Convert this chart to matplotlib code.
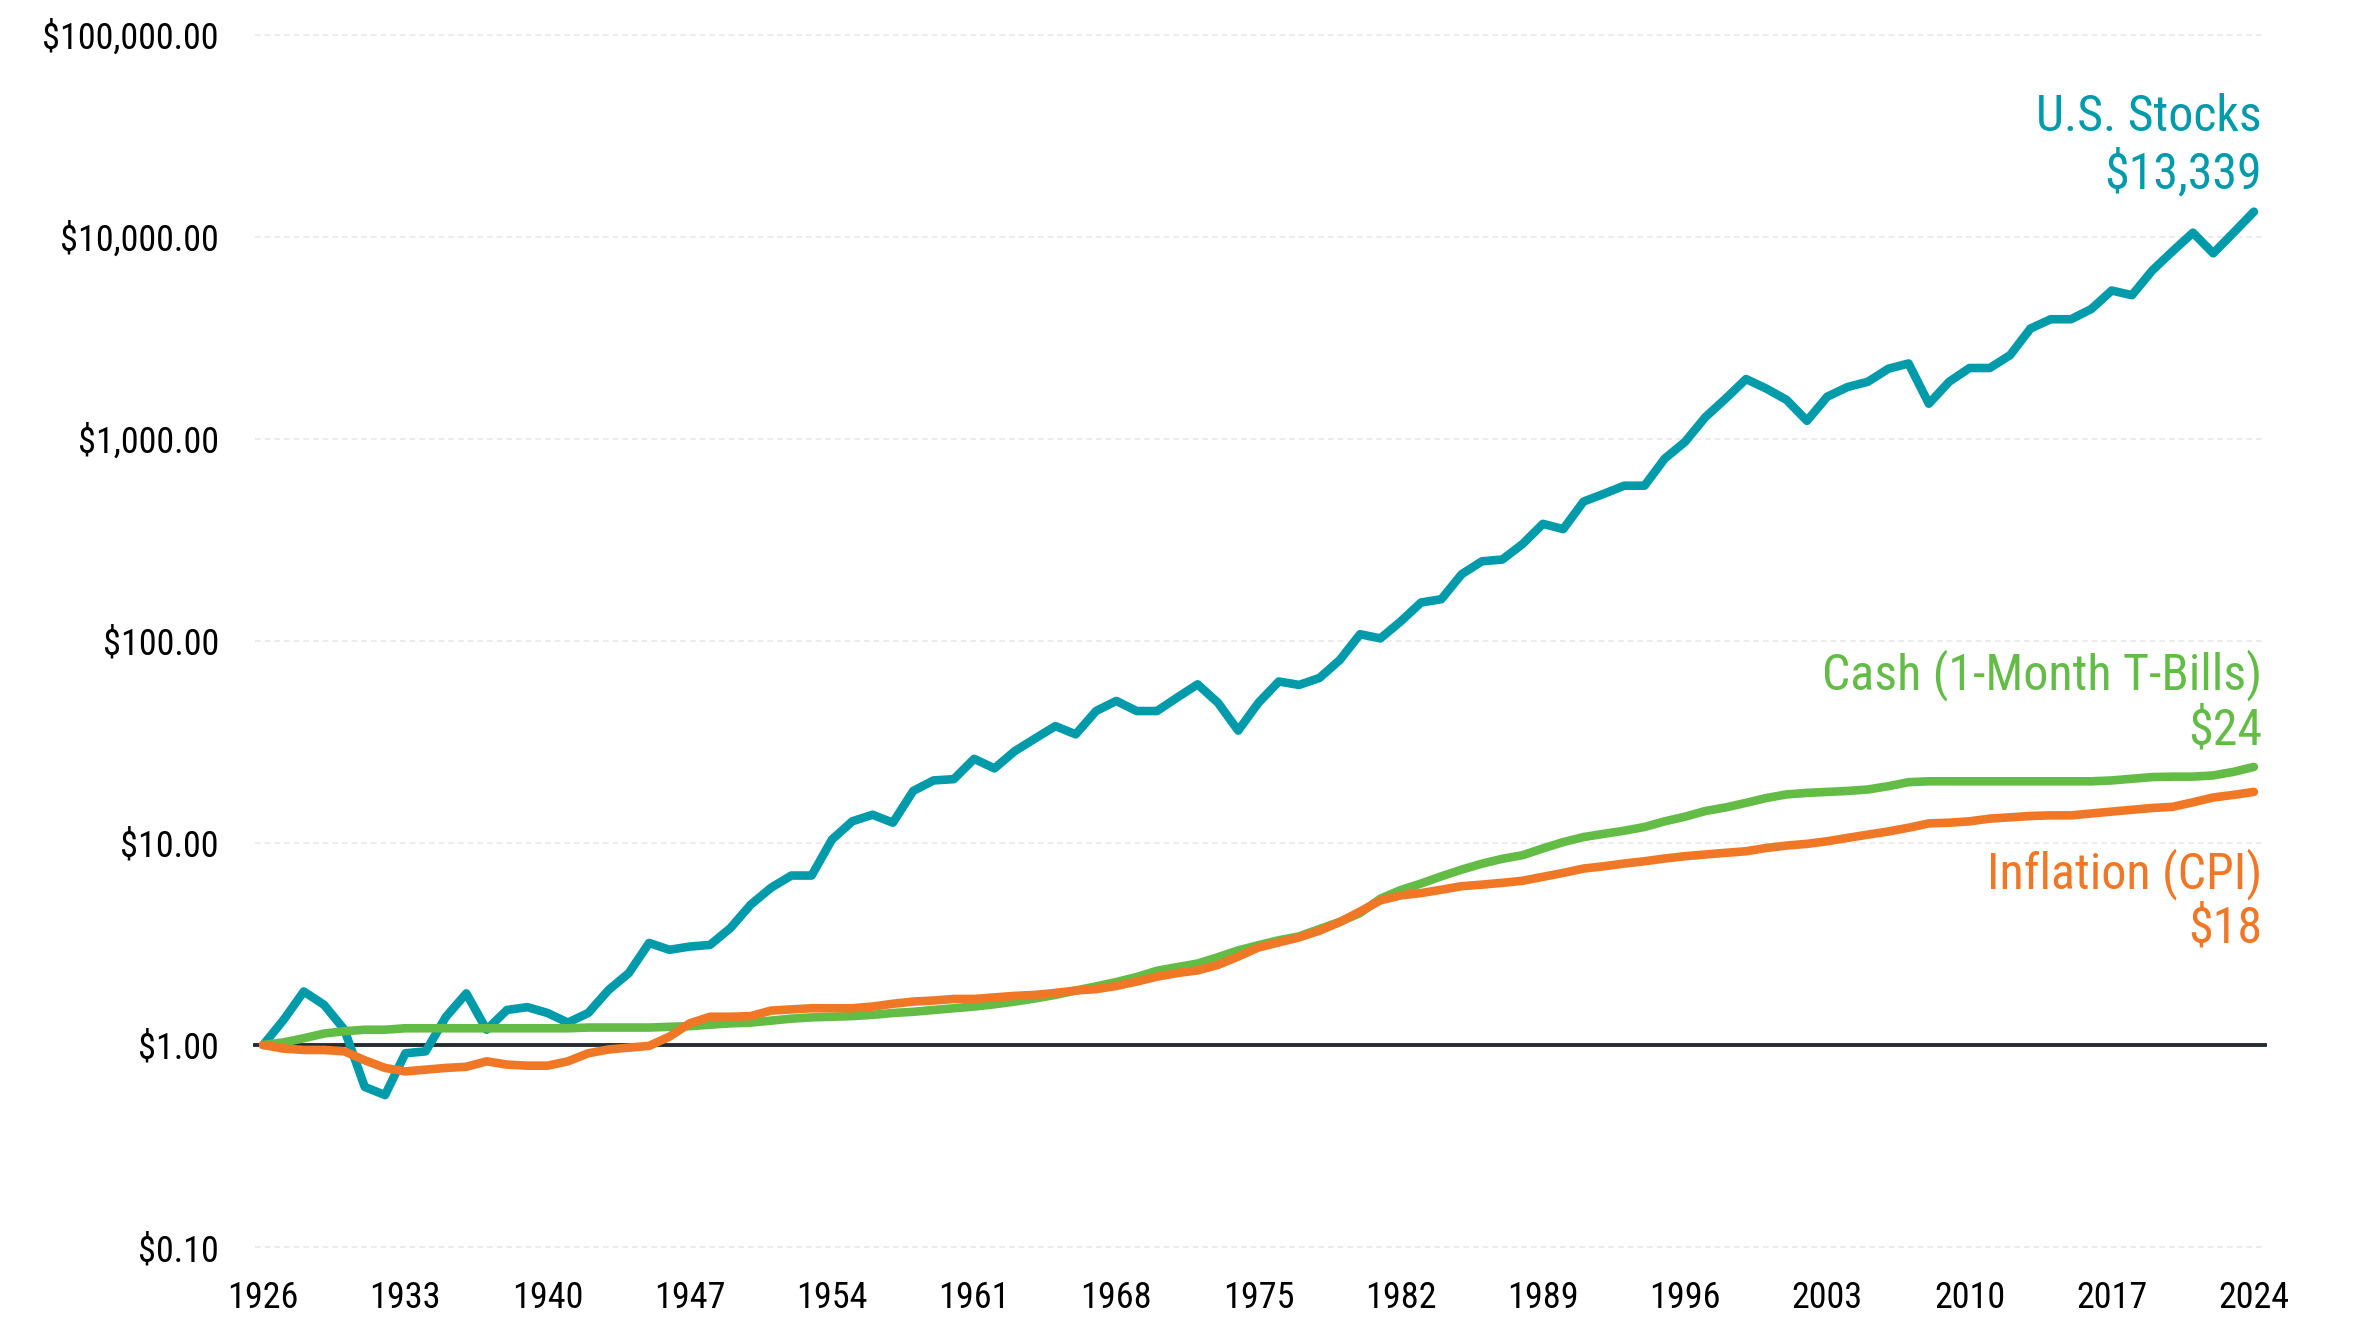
"""Growth of $1, 1926-2024: U.S. stocks vs cash vs inflation (log scale)."""
import matplotlib
matplotlib.use("Agg")
import matplotlib.font_manager as fm
import matplotlib.pyplot as plt

# pick a condensed face if one is there, else plain Roboto
_names = {f.name for f in fm.fontManager.ttflist}
FONT = "Roboto"
for _cand in ["Roboto Condensed", "Liberation Sans Narrow", "Arial Narrow", "Noto Sans Display"]:
    if _cand in _names:
        FONT = _cand
        break
plt.rcParams["font.family"] = [FONT, "DejaVu Sans"]

years = list(range(1926, 2025))

stocks = [
    1.00, 1.33, 1.84, 1.58, 1.19, 0.62, 0.565, 0.91, 0.93, 1.38,       # 1926-35
    1.80, 1.19, 1.49, 1.54, 1.44, 1.29, 1.44, 1.87, 2.27, 3.20,        # 1936-45
    2.96, 3.07, 3.13, 3.79, 4.95, 6.0, 6.9, 6.9, 10.4, 12.8,           # 1946-55
    13.8, 12.6, 18.1, 20.4, 20.7, 26.1, 23.4, 28.5, 32.9, 37.9,        # 1956-65
    34.5, 45.0, 50.5, 45.0, 45.0, 52.5, 61.0, 49.5, 36.0, 49.5,        # 1966-75
    63.0, 60.6, 65.6, 80.5, 108, 103, 125, 155, 161, 214,              # 1976-85
    248, 253, 302, 380, 358, 490, 535, 587, 587, 800,                  # 1986-95
    968, 1283, 1585, 1980, 1775, 1560, 1230, 1620, 1808, 1920,         # 1996-05
    2225, 2365, 1495, 1920, 2245, 2245, 2600, 3520, 3915, 3915,        # 2006-15
    4400, 5430, 5150, 6830, 8500, 10500, 8300, 10500, 13339,           # 2016-24
]

cash = [
    1.00, 1.03, 1.08, 1.14, 1.17, 1.19, 1.19, 1.21, 1.21, 1.21,
    1.21, 1.21, 1.21, 1.21, 1.21, 1.21, 1.22, 1.22, 1.22, 1.22,
    1.23, 1.24, 1.26, 1.28, 1.29, 1.32, 1.35, 1.37, 1.38, 1.39,
    1.41, 1.44, 1.46, 1.49, 1.52, 1.55, 1.59, 1.64, 1.70, 1.77,
    1.86, 1.95, 2.05, 2.17, 2.33, 2.43, 2.53, 2.72, 2.94, 3.12,
    3.30, 3.45, 3.75, 4.07, 4.50, 5.30, 5.85, 6.30, 6.84, 7.38,
    7.90, 8.35, 8.70, 9.40, 10.1, 10.7, 11.1, 11.5, 12.0, 12.8,
    13.5, 14.4, 15.0, 15.8, 16.7, 17.4, 17.7, 17.9, 18.1, 18.4,
    19.1, 20.0, 20.2, 20.2, 20.2, 20.2, 20.2, 20.2, 20.2, 20.2,
    20.2, 20.4, 20.8, 21.2, 21.3, 21.3, 21.6, 22.5, 23.8,
]

inflation = [
    1.00, 0.96, 0.945, 0.945, 0.93, 0.84, 0.77, 0.74, 0.755, 0.77,
    0.78, 0.83, 0.80, 0.79, 0.79, 0.83, 0.91, 0.95, 0.97, 0.99,
    1.10, 1.28, 1.38, 1.38, 1.39, 1.48, 1.50, 1.52, 1.52, 1.52,
    1.55, 1.60, 1.64, 1.66, 1.69, 1.69, 1.72, 1.75, 1.77, 1.81,
    1.86, 1.89, 1.96, 2.06, 2.18, 2.27, 2.34, 2.49, 2.74, 3.04,
    3.22, 3.41, 3.68, 4.06, 4.58, 5.20, 5.50, 5.65, 5.87, 6.11,
    6.22, 6.35, 6.50, 6.80, 7.11, 7.47, 7.67, 7.91, 8.12, 8.38,
    8.60, 8.77, 8.94, 9.10, 9.45, 9.71, 9.90, 10.2, 10.6, 11.0,
    11.4, 11.9, 12.5, 12.6, 12.8, 13.2, 13.4, 13.6, 13.7, 13.7,
    14.0, 14.3, 14.6, 14.9, 15.1, 15.9, 16.8, 17.3, 17.9,
]

y_ticks = [0.1, 1, 10, 100, 1000, 10000, 100000]
y_labels = ["\\$0.10", "\\$1.00", "\\$10.00", "\\$100.00", "\\$1,000.00",
            "\\$10,000.00", "\\$100,000.00"]
x_ticks = list(range(1926, 2025, 7))

TEAL = "#009BAB"
GREEN = "#63BC46"
ORANGE = "#F07725"
BASE = "#262c31"

fig = plt.figure(figsize=(23.55, 13.29), dpi=100)
ax = fig.add_axes([0.1083, 0.0617, 0.8535, 0.9120])

ax.set_yscale("log")
ax.set_ylim(0.1, 100000)
ax.set_xlim(1925.6, 2024.55)

# horizontal reference lines: dashed light grey, solid dark at $1
for t in y_ticks:
    if t == 1:
        ax.axhline(t, color=BASE, linewidth=2.8, zorder=1, clip_on=False)
    else:
        ax.axhline(t, color="#e9e9e9", linewidth=1.2, linestyle=(0, (3.4, 2.4)),
                   zorder=0, clip_on=False)

lw = 6.2
ax.plot(years, stocks, color=TEAL, linewidth=lw, solid_joinstyle="round",
        solid_capstyle="round", zorder=3)
ax.plot(years, cash, color=GREEN, linewidth=lw, solid_joinstyle="round",
        solid_capstyle="round", zorder=4)
ax.plot(years, inflation, color=ORANGE, linewidth=lw, solid_joinstyle="round",
        solid_capstyle="round", zorder=5)

ax.set_yticks(y_ticks)
ax.set_yticklabels(y_labels)
ax.minorticks_off()
ax.set_xticks(x_ticks)
ax.set_xticklabels([str(x) for x in x_ticks])
ax.tick_params(axis="y", length=0, pad=26, labelsize=26)
ax.tick_params(axis="x", length=0, pad=24, labelsize=26)
for s in ax.spines.values():
    s.set_visible(False)

# end labels
lab = dict(transform=ax.transAxes, ha="right", va="baseline", fontsize=36)
ax.text(0.9985, 0.921, "U.S. Stocks", color=TEAL, **lab)
ax.text(0.9985, 0.873, "\\$13,339", color=TEAL, **lab)
ax.text(0.9985, 0.4596, "Cash (1-Month T-Bills)", color=GREEN, **lab)
ax.text(0.9985, 0.4147, "\\$24", color=GREEN, **lab)
ax.text(0.9985, 0.2962, "Inflation (CPI)", color=ORANGE, **lab)
ax.text(0.9985, 0.2513, "\\$18", color=ORANGE, **lab)

fig.savefig("out.png", dpi=100, facecolor="white")
print("font:", FONT)
